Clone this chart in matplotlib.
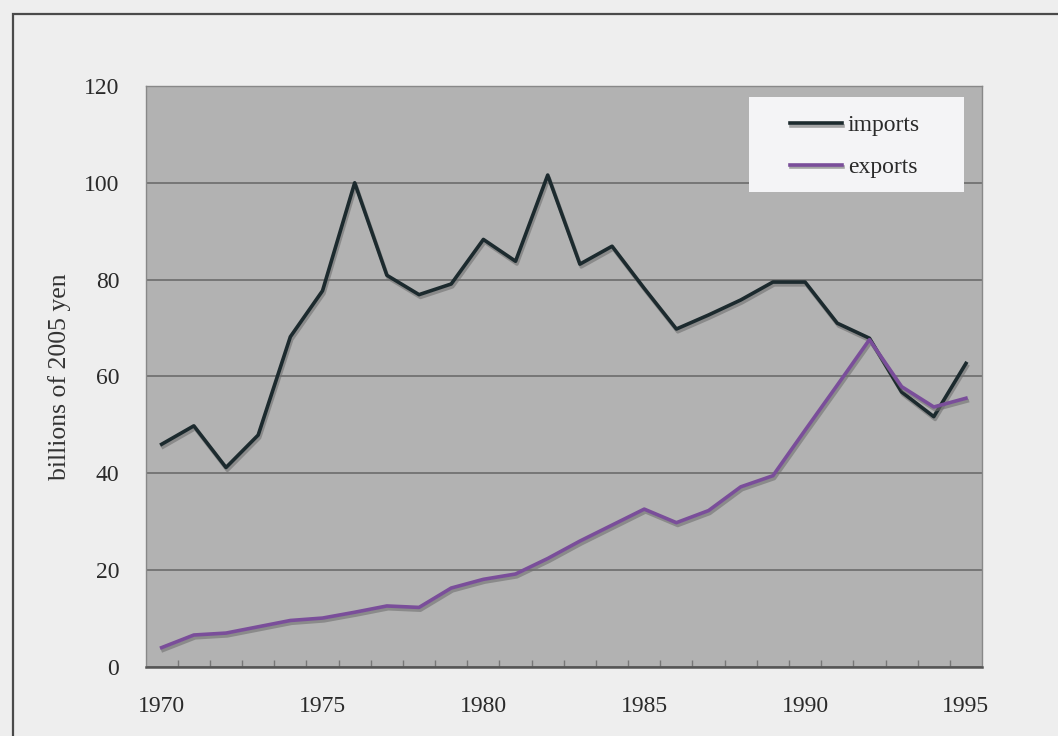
import matplotlib.pyplot as plt
import matplotlib.patheffects as pe
from matplotlib.patches import Rectangle

plt.rcParams['font.family'] = ['Liberation Serif', 'DejaVu Serif']

years = list(range(1970, 1996))
imports = [46.0, 49.8, 41.2, 47.9, 68.2, 77.7, 100.0, 80.9, 76.9, 79.1,
           88.3, 83.8, 101.6, 83.2, 86.9, 78.2, 69.8, 72.7, 75.8, 79.5,
           79.5, 71.0, 67.9, 56.8, 51.7, 62.7]
exports = [4.0, 6.6, 7.0, 8.3, 9.6, 10.1, 11.3, 12.6, 12.3, 16.3,
           18.1, 19.2, 22.4, 26.0, 29.3, 32.6, 29.8, 32.3, 37.2, 39.5,
           48.9, 58.2, 67.6, 57.9, 53.7, 55.5]
year_labels = [1970, 1975, 1980, 1985, 1990, 1995]
y_ticks = [0, 20, 40, 60, 80, 100, 120]

fig = plt.figure(figsize=(10.58, 7.36), dpi=100, facecolor='#eeeeee')
ax = fig.add_axes([0.1376, 0.0938, 0.7906, 0.7894])
ax.set_facecolor('#b2b2b2')

# outer frame of the chart (only left and top edges fall inside the page)
fig.patches.append(Rectangle((12.5 / 1058, -0.1), 1.2, (736 - 14) / 736 + 0.1,
                             transform=fig.transFigure, fill=False,
                             edgecolor='#4a4a4a', linewidth=1.6))

shadow = [pe.SimpleLineShadow(offset=(1, -2), shadow_color='#707070', alpha=0.6),
          pe.Normal()]
ax.plot(years, imports, color='#1c2a2e', linewidth=2.6, label='imports',
        path_effects=shadow, zorder=4)
ax.plot(years, exports, color='#7a4e9a', linewidth=2.6, label='exports',
        path_effects=shadow, zorder=4)

ax.set_xlim(1969.5, 1995.5)
ax.set_ylim(0, 120)
ax.set_yticks(y_ticks)
ax.set_xticks(year_labels)
ax.set_xticks([y + 0.5 for y in years[:-1]], minor=True)
ax.tick_params(axis='x', which='major', length=0, pad=21, labelsize=17,
               labelcolor='#2a2a2a')
ax.tick_params(axis='x', which='minor', direction='in', length=5, width=1,
               color='#777777')
ax.tick_params(axis='y', length=0, pad=19, labelsize=17, labelcolor='#2a2a2a')

ax.grid(axis='y', color='#666666', linewidth=1.1)
ax.set_axisbelow(True)
for side in ['left', 'right', 'top']:
    ax.spines[side].set_color('#888888')
    ax.spines[side].set_linewidth(1.0)
ax.spines['bottom'].set_color('#555555')
ax.spines['bottom'].set_linewidth(1.8)

ax.set_ylabel('billions of 2005 yen', fontsize=18.5, color='#333333', labelpad=9)

# legend box
ax.add_patch(Rectangle((0.7214, 0.818), 0.2571, 0.1636, transform=ax.transAxes,
                       facecolor='#f4f4f6', edgecolor='none', zorder=5))
leg = ax.legend(loc='center left', bbox_to_anchor=(0.7705, 0.896), frameon=False,
                fontsize=17, handlelength=2.2, handletextpad=0.25,
                labelspacing=0.85, borderpad=0, borderaxespad=0)
leg.set_zorder(6)
for t in leg.get_texts():
    t.set_color('#2a2a2a')

fig.savefig('out.png', dpi=100, facecolor=fig.get_facecolor())
